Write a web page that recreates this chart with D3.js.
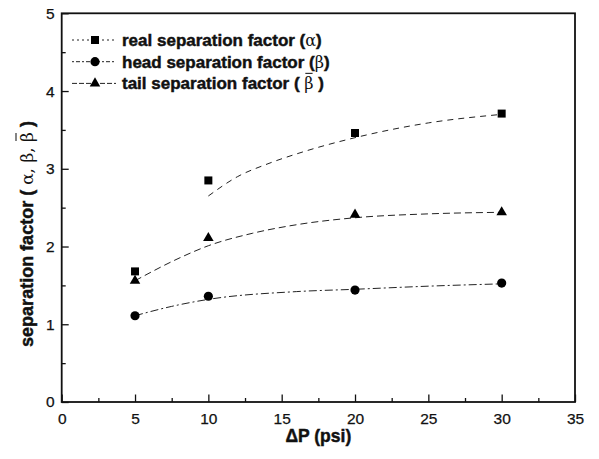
<!DOCTYPE html>
<html>
<head>
<meta charset="utf-8">
<script src="https://cdn.jsdelivr.net/npm/d3@7/dist/d3.min.js"></script>
<style>
  html, body { margin: 0; padding: 0; background: #fff; }
  svg { display: block; }
  text { font-family: "Liberation Sans", Arial, Helvetica, sans-serif; fill: #111; }
  .heavy { stroke: #111; stroke-width: 0.45px; }
</style>
</head>
<body>
<svg id="chart" width="599" height="459"></svg>
<script>
// Pressure drop across the module (psi)
const pressure = [5, 10, 20, 30];

// Measured separation factors
const alphaReal = [1.68, 2.85, 3.46, 3.71];
const betaHead = [1.11, 1.36, 1.44, 1.53];
const betaTail = [1.56, 2.11, 2.41, 2.44];

// Fitted trend curves (sampled along the fit)
const alphaFitX = [10, 12, 14, 16.5, 20, 25, 30];
const alphaFitY = [2.65, 2.90, 3.06, 3.22, 3.40, 3.59, 3.70];
const headFitX = [5, 7.5, 10, 16, 20, 25, 30];
const headFitY = [1.11, 1.23, 1.32, 1.42, 1.45, 1.49, 1.52];
const tailFitX = [5, 8, 10, 13, 16, 20, 25, 30];
const tailFitY = [1.56, 1.85, 2.01, 2.17, 2.28, 2.37, 2.42, 2.44];

// Axis ticks
const xMajor = [0, 5, 10, 15, 20, 25, 30, 35];
const xMinor = [2.5, 7.5, 12.5, 17.5, 22.5, 27.5, 32.5];
const yMajor = [0, 1, 2, 3, 4, 5];
const yMinor = [0.5, 1.5, 2.5, 3.5, 4.5];

const svg = d3.select("#chart");
const plotL = 61.7, plotR = 575, plotT = 13.3, plotB = 402;

const x = d3.scaleLinear().domain([0, 35]).range([plotL, plotR]);
const y = d3.scaleLinear().domain([0, 5]).range([plotB, plotT]);

// Axes with inward ticks
const gx = svg.append("g").attr("transform", `translate(0,${plotB})`)
  .call(d3.axisBottom(x).tickValues(xMajor).tickSize(-7.5).tickSizeOuter(0)
    .tickPadding(11).tickFormat(d3.format("d")));
const gxm = svg.append("g").attr("transform", `translate(0,${plotB})`)
  .call(d3.axisBottom(x).tickValues(xMinor).tickSize(-4).tickSizeOuter(0).tickFormat(""));
const gy = svg.append("g").attr("transform", `translate(${plotL},0)`)
  .call(d3.axisLeft(y).tickValues(yMajor).tickSize(-7).tickSizeOuter(0)
    .tickPadding(7).tickFormat(d3.format("d")));
const gym = svg.append("g").attr("transform", `translate(${plotL},0)`)
  .call(d3.axisLeft(y).tickValues(yMinor).tickSize(-4).tickSizeOuter(0).tickFormat(""));

[gx, gxm, gy, gym].forEach(g => {
  g.select(".domain").remove();
  g.selectAll(".tick line").attr("stroke", "#111").attr("stroke-width", 1.3);
  g.selectAll(".tick text").attr("font-size", 15.5).attr("fill", "#111")
    .attr("stroke", "#111").attr("stroke-width", 0.25)
    .attr("font-family", "Liberation Sans, Arial, sans-serif");
});

// Plot frame
svg.append("rect")
  .attr("x", plotL).attr("y", plotT)
  .attr("width", plotR - plotL).attr("height", plotB - plotT)
  .attr("fill", "none").attr("stroke", "#111").attr("stroke-width", 1.8);

// Fit curves
const line = d3.line().x(d => x(d[0])).y(d => y(d[1])).curve(d3.curveMonotoneX);
const fits = [
  { xs: alphaFitX, ys: alphaFitY, dash: "6,5" },
  { xs: headFitX, ys: headFitY, dash: "8,3,2,3" },
  { xs: tailFitX, ys: tailFitY, dash: "7,4" }
];
fits.forEach(f => {
  svg.append("path")
    .datum(f.xs.map((v, i) => [v, f.ys[i]]))
    .attr("d", line)
    .attr("fill", "none").attr("stroke", "#222")
    .attr("stroke-width", 1).attr("stroke-dasharray", f.dash);
});

// Markers
const shapes = {
  square: d3.symbol().type(d3.symbolSquare).size(64),
  circle: d3.symbol().type(d3.symbolCircle).size(66),
  triangle: d3.symbol().type(d3.symbolTriangle).size(48)
};
const series = [
  { values: alphaReal, shape: "square" },
  { values: betaHead, shape: "circle" },
  { values: betaTail, shape: "triangle" }
];
series.forEach(s => {
  svg.append("g").selectAll("path")
    .data(s.values.map((v, i) => [pressure[i], v]))
    .join("path")
    .attr("transform", d => `translate(${x(d[0])},${y(d[1])})`)
    .attr("d", shapes[s.shape])
    .attr("fill", "#000");
});

// Legend
const greekFont = "DejaVu Serif, Liberation Serif, serif";
const legendRows = [
  { shape: "square", dash: "2,3", label: "real separation factor ", greek: "α", bar: false, gap: "" },
  { shape: "circle", dash: "2,2,4,2", label: "head separation factor ", greek: "β", bar: false, gap: "" },
  { shape: "triangle", dash: "5,2", label: "tail separation factor ", greek: "β", bar: true, gap: " " }
];
legendRows.forEach((r, i) => {
  const cy = 40 + i * 21.7;
  svg.append("line").attr("x1", 72).attr("x2", 116).attr("y1", cy).attr("y2", cy)
    .attr("stroke", "#222").attr("stroke-width", 1).attr("stroke-dasharray", r.dash);
  svg.append("path").attr("transform", `translate(95,${cy})`).attr("d", shapes[r.shape]).attr("fill", "#000");
  const t = svg.append("text").attr("x", 122).attr("y", cy + 6)
    .attr("font-size", 17).attr("font-weight", "bold");
  t.append("tspan").attr("class", "heavy").text(r.label + "(" + r.gap);
  const g = t.append("tspan").attr("font-family", greekFont)
    .attr("font-weight", "normal").attr("font-size", 16).text(r.greek);
  t.append("tspan").attr("class", "heavy").text(r.gap + ")");
  if (r.bar) {
    const bb = g.node().getBBox();
    svg.append("line").attr("x1", bb.x + 1).attr("x2", bb.x + bb.width - 1)
      .attr("y1", bb.y - 1).attr("y2", bb.y - 1)
      .attr("stroke", "#333").attr("stroke-width", 1.2);
  }
});

// Axis titles
svg.append("text").attr("class", "heavy").attr("x", (plotL + plotR) / 2).attr("y", 442)
  .attr("text-anchor", "middle").attr("font-size", 17.5).attr("font-weight", "bold")
  .text("ΔP (psi)");

const ytG = svg.append("g").attr("transform", "translate(33,234) rotate(-90)");
const yt = ytG.append("text")
  .attr("text-anchor", "middle").attr("font-size", 18).attr("font-weight", "bold");
yt.append("tspan").attr("class", "heavy").text("separation factor (   ");
yt.append("tspan").attr("font-family", greekFont).attr("font-weight", "normal").attr("font-size", 17).text("α,  β,  ");
const barB = yt.append("tspan").attr("font-family", greekFont).attr("font-weight", "normal").attr("font-size", 17).text("β");
yt.append("tspan").attr("class", "heavy").text("  )");
{
  const bb = barB.node().getBBox();
  ytG.append("line").attr("x1", bb.x + 1).attr("x2", bb.x + bb.width - 1)
    .attr("y1", bb.y - 1).attr("y2", bb.y - 1)
    .attr("stroke", "#333").attr("stroke-width", 1.2);
}
</script>
</body>
</html>
